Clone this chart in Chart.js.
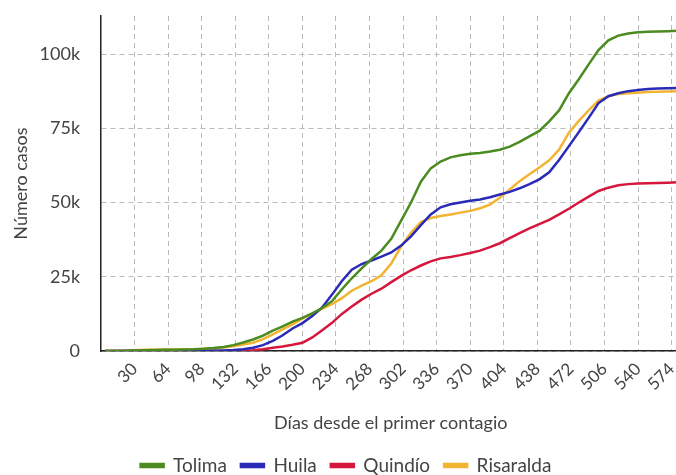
<!DOCTYPE html>
<html>
<head>
<meta charset="utf-8">
<script src="https://cdn.jsdelivr.net/npm/chart.js@4"></script>
<style>body{margin:0;background:#fff;overflow:hidden;width:676px;height:475px}</style>
</head>
<body>
<canvas id="casos" width="686" height="475"></canvas>
<script>
// dias desde el primer contagio (muestras cada 10 dias)
const days = [0,10,20,30,40,50,60,70,80,90,100,110,120,130,140,150,160,170,180,190,200,210,220,230,240,250,260,270,280,290,300,310,320,330,340,350,360,370,380,390,400,410,420,430,440,450,460,470,480,490,500,510,520,530,540,550,560,570,580];
const xTicks = [30,64,98,132,166,200,234,268,302,336,370,404,438,472,506,540,574];
const yTicks = [0,25000,50000,75000,100000];

const tolima = [0,0,100,200,300,350,400,450,500,600,800,1000,1400,2000,2900,3900,5200,6900,8300,9900,11200,12700,14500,16800,20800,24500,27800,31000,33800,37800,43900,50000,57000,61500,63800,65200,65900,66400,66700,67200,67800,68800,70400,72300,74100,77300,81000,86800,91500,96500,101300,104600,106200,106900,107300,107500,107600,107700,107800];
const huila = [0,0,0,0,0,0,0,0,0,0,0,100,200,350,600,1100,2000,3400,5300,7600,9400,11800,14700,19000,23600,27400,29300,30500,31800,33200,35500,38600,42400,46000,48400,49400,50000,50600,51000,51800,52700,53600,54800,56200,57800,60200,64300,69000,73700,78500,83500,85800,86800,87500,87900,88200,88400,88500,88600];
const quindio = [0,0,0,0,0,0,0,0,0,0,0,0,0,0,100,300,600,1100,1500,2100,2800,4600,7000,9500,12500,15000,17300,19300,21000,23200,25300,27200,28800,30200,31200,31700,32300,33000,33800,35000,36300,38000,39700,41300,42700,44200,46000,47900,50000,52000,53900,55000,55800,56200,56400,56500,56600,56700,56800];
const risaralda = [0,0,100,300,400,450,500,500,550,600,700,900,1200,1600,2200,2800,4000,5600,7300,9000,10900,12700,14300,15800,17800,20300,22000,23500,25500,29500,35200,39800,43400,44800,45500,46000,46600,47200,48100,49300,51600,54400,57200,59500,61800,64200,67800,73500,77500,81000,84300,85800,86500,86800,87000,87200,87300,87400,87500];

Chart.defaults.font.family = 'Lato';
Chart.defaults.color = '#444';

const serie = (label, color, vals) => ({
    label, borderColor: color, backgroundColor: color,
    data: days.map((d, i) => ({ x: d, y: vals[i] }))
});

new Chart(document.getElementById('casos'), {
    type: 'line',
    data: {
        datasets: [
            serie('Tolima', '#4b8b1f', tolima),
            serie('Huila', '#2a2ab8', huila),
            serie('Quindío', '#d5173b', quindio),
            serie('Risaralda', '#f2b431', risaralda)
        ]
    },
    options: {
        responsive: false, animation: false,
        layout: { padding: { left: 6, right: 0, top: 16, bottom: -10 } },
        elements: { point: { radius: 0 }, line: { borderWidth: 2.5 } },
        plugins: {
            legend: { position: 'bottom', labels: { boxWidth: 23, boxHeight: 3, padding: 14, font: { size: 19 } } },
            tooltip: { enabled: false }
        },
        scales: {
            x: {
                type: 'linear', min: -4, max: 583,
                afterBuildTicks: a => { a.ticks = xTicks.map(value => ({ value })); },
                ticks: { minRotation: 45, maxRotation: 45, padding: 0, font: { size: 17 } },
                // marcas invisibles: solo separan las etiquetas del eje
                grid: { color: '#bbb', tickColor: 'transparent', tickLength: 8 },
                border: { color: '#222', width: 1.5, dash: [5, 4] },
                title: { display: true, text: 'Días desde el primer contagio', font: { size: 18 }, padding: { top: 18, bottom: 8 } }
            },
            y: {
                min: 0, max: 112800,
                afterBuildTicks: a => { a.ticks = yTicks.map(value => ({ value })); },
                ticks: { padding: 0, font: { size: 18 }, callback: v => v ? v / 1000 + 'k' : '0' },
                grid: { color: '#bbb', tickColor: 'transparent', tickLength: 21 },
                border: { color: '#222', width: 1.5, dash: [5, 4] },
                title: { display: true, text: 'Número casos', font: { size: 18 }, padding: { top: 4, bottom: 8 } }
            }
        }
    }
});
</script>
</body>
</html>
